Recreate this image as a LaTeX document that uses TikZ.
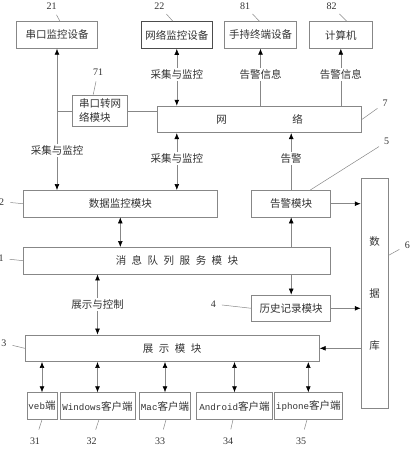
\documentclass[tikz,border=0pt]{standalone}
\usepackage{fontspec}
\setmainfont{Liberation Serif}
\newfontfamily\cjk{Noto Sans CJK SC}
\newfontfamily\lat{Liberation Mono}
\usetikzlibrary{arrows.meta}
\definecolor{linegray}{RGB}{135,135,135}
\definecolor{inkgray}{RGB}{50,50,50}
\newcommand{\en}[1]{{\lat\fontsize{9.2}{10}\selectfont #1}}
\newcommand{\gp}{\hspace{5.5pt}}

\begin{document}
\begin{tikzpicture}[x=1pt, y=-1pt, >={Latex[length=6pt,width=4.8pt,color=black]}]
	\tikzset{unit/.style={draw=linegray, line width=0.6pt, inner sep=0pt, minimum height=26.7pt, text=inkgray, font=\cjk\fontsize{10.5}{12}\selectfont}}
	\tikzset{numtag/.style={inner sep=0pt, text=inkgray, font=\fontsize{10}{12}\selectfont}}
	\tikzset{flowtext/.style={fill=white, inner sep=1.5pt, text=inkgray, font=\cjk\fontsize{10.5}{12}\selectfont}}
	\tikzset{link/.style={draw=linegray, line width=0.6pt}}
	\tikzset{lead/.style={draw=linegray, line width=0.5pt, shorten <=6pt}}
	\useasboundingbox (0,0) rectangle (412,450);

	\node[unit, minimum width=80.7pt] (serialdev) at (57,35) {串口监控设备};
	\node[unit, minimum width=71.7pt, draw=black!70, line width=0.9pt] (netdev) at (176.8,35) {网络监控设备};
	\node[unit, minimum width=72.3pt] (handheld) at (260.5,35) {手持终端设备};
	\node[unit, minimum width=63pt] (computer) at (340.8,35) {计算机};
	\node[unit, minimum width=55pt, minimum height=31.7pt, align=left, font=\cjk\fontsize{10.5}{14}\selectfont] (converter) at (100.2,110.8) {串口转网\\络模块};
	\node[unit, minimum width=204.3pt] (network) at (259.5,119.4) {网\hspace{65.5pt}络\hspace{8.5pt}};
	\node[unit, minimum width=194pt] (monitor) at (120.3,203.7) {数据监控模块};
	\node[unit, minimum width=79pt] (alarm) at (291.2,203.7) {告警模块};
	\node[unit, minimum width=27.3pt, minimum height=230pt, align=center, font=\cjk\fontsize{10.5}{52}\selectfont] (database) at (374.7,293.3) {数\\据\\库};
	\node[unit, minimum width=307.4pt] (queue) at (177,260.7) {消\gp 息\gp 队\gp 列\gp 服\gp 务\gp 模\gp 块};
	\node[unit, minimum width=79pt] (history) at (291.2,308.3) {历史记录模块};
	\node[unit, minimum width=294.3pt] (display) at (172.2,348.3) {展\gp 示\gp 模\gp 块};
	\node[unit, minimum width=30pt] (web) at (42,406) {\en{veb}端};
	\node[unit, minimum width=75pt] (windows) at (97.5,406) {\en{Windows}客户端};
	\node[unit, minimum width=51.3pt] (mac) at (165,406) {\en{Mac}客户端};
	\node[unit, minimum width=75.6pt] (android) at (234.5,406) {\en{Android}客户端};
	\node[unit, minimum width=68.7pt] (iphone) at (308.3,406) {\en{iphone}客户端};

	\node[numtag] (t21) at (51.7,6) {21};
	\node[numtag] (t22) at (159.3,6) {22};
	\node[numtag] (t81) at (245,6) {81};
	\node[numtag] (t82) at (331.7,6) {82};
	\node[numtag] (t71) at (98,72) {71};
	\node[numtag] (t7) at (385,103) {7};
	\node[numtag] (t5) at (386.7,141.7) {5};
	\node[numtag] (t6) at (407.3,245) {6};
	\node[numtag] (t2) at (1.7,201.7) {2};
	\node[numtag] (t1) at (1,258.3) {1};
	\node[numtag] (t4) at (213.3,304) {4};
	\node[numtag] (t3) at (4,343.3) {3};
	\node[numtag] (t31) at (35,441.7) {31};
	\node[numtag] (t32) at (91.7,441.7) {32};
	\node[numtag] (t33) at (160,441.7) {33};
	\node[numtag] (t34) at (228,441.7) {34};
	\node[numtag] (t35) at (301,441.7) {35};

	\draw[lead] (t21) -- ([xshift=3pt]serialdev.north);
	\draw[lead] (t22) -- ([xshift=-4pt]netdev.north);
	\draw[lead] (t81) -- ([xshift=-1pt]handheld.north);
	\draw[lead] (t82) -- ([xshift=6pt]computer.north);
	\draw[lead] (t71) -- ([xshift=-7pt]converter.north);
	\draw[lead] (t7) -- (network.east);
	\draw[lead] (t5) -- ([xshift=19pt]alarm.north);
	\draw[lead] (t6) -- ([yshift=38pt]database.east);
	\draw[lead] (t2) -- (monitor.west);
	\draw[lead] (t1) -- (queue.west);
	\draw[lead] (t4) -- (history.west);
	\draw[lead] (t3) -- (display.west);
	\draw[lead, shorten <=9pt] (t31) -- (web.south);
	\draw[lead, shorten <=9pt] (t32) -- ([xshift=1.5pt]windows.south);
	\draw[lead, shorten <=9pt] (t33) -- ([xshift=1pt]mac.south);
	\draw[lead, shorten <=9pt] (t34) -- ([xshift=-1.5pt]android.south);
	\draw[lead, shorten <=9pt] (t35) -- ([xshift=-1.3pt]iphone.south);

	\coordinate (tap) at (serialdev.south |- converter.west);
	\draw[link, <->] (serialdev.south) -- (serialdev.south |- monitor.north) node[flowtext, pos=0.72] {采集与监控};
	\draw[link] (tap) -- (converter.west);
	\draw[link] (converter.east) -- (converter.east -| network.west);
	\draw[link, <->] (netdev.south) -- (netdev.south |- network.north) node[flowtext, pos=0.45] {采集与监控};
	\draw[link, ->] (handheld.south |- network.north) -- (handheld.south) node[flowtext, pos=0.55] {告警信息};
	\draw[link, ->] (computer.south |- network.north) -- (computer.south) node[flowtext, pos=0.55] {告警信息};
	\draw[link, <->] (netdev.south |- network.south) -- (netdev.south |- monitor.north) node[flowtext, pos=0.45] {采集与监控};
	\draw[link, ->] (alarm.north) -- (alarm.north |- network.south) node[flowtext, pos=0.56] {告警};
	\draw[link, <->] (monitor.south) -- (monitor.south |- queue.north);
	\draw[link, ->] (alarm.south |- queue.north) -- (alarm.south);
	\draw[link, ->] (alarm.south |- queue.south) -- (history.north);
	\draw[link, <->] (windows.north |- queue.south) -- (windows.north |- display.north) node[flowtext, midway] {展示与控制};
	\draw[link, ->] (alarm.east) -- (alarm.east -| database.west);
	\draw[link, ->] (history.east) -- (history.east -| database.west);
	\draw[link, ->] (display.east -| database.west) -- (display.east);
	\foreach \c in {web, windows, mac, android, iphone}
		\draw[link, <->] (display.south -| \c.north) -- (\c.north);
\end{tikzpicture}
\end{document}
